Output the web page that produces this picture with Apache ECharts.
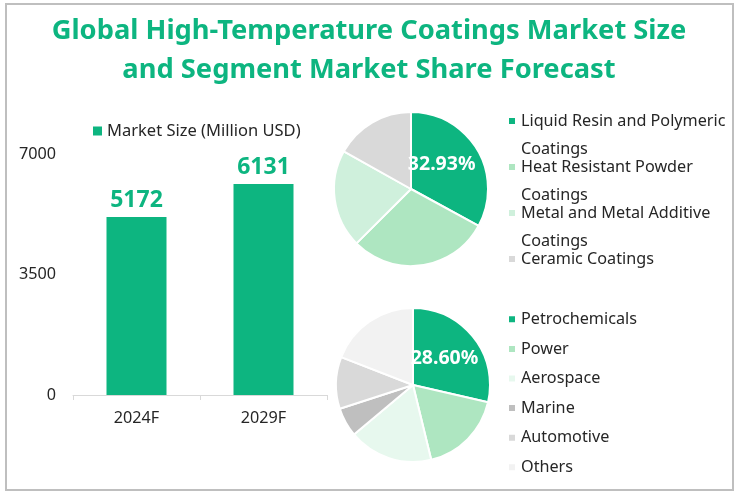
<!DOCTYPE html>
<html>
<head>
<meta charset="utf-8">
<script src="https://cdn.jsdelivr.net/npm/echarts@6/dist/echarts.min.js"></script>
<style>
  html, body { margin: 0; padding: 0; background: #fff; }
  #chart { width: 738px; height: 495px; }
</style>
</head>
<body>
<div id="chart"></div>
<script>
const years = ["2024F", "2029F"];
const marketSize = [5172, 6131];
const yTicks = [0, 3500, 7000];

const coatingNames = ["Liquid Resin and Polymeric Coatings", "Heat Resistant Powder Coatings", "Metal and Metal Additive Coatings", "Ceramic Coatings"];
const coatingShare = [32.93, 29.6, 20.6, 16.87];
const coatingColors = ["#0DB580", "#AEE6C1", "#CFF0DC", "#D9D9D9"];

const industryNames = ["Petrochemicals", "Power", "Aerospace", "Marine", "Automotive", "Others"];
const industryShare = [28.6, 17.6, 17.7, 6.1, 10.9, 19.1];
const industryColors = ["#0DB580", "#AEE6C1", "#E7F8EE", "#BFBFBF", "#D9D9D9", "#F2F2F2"];

const FONT = '"Noto Sans", "Open Sans", sans-serif';
const GREEN = "#0DB580";
const TEXT = "#262626";
const SIZE = 16.2;

// legend icon sits on the vertical middle of the text, so the first line goes in the middle
const wrapped = {
    "Liquid Resin and Polymeric Coatings": "\nLiquid Resin and Polymeric\nCoatings",
    "Heat Resistant Powder Coatings": "\nHeat Resistant Powder\nCoatings",
    "Metal and Metal Additive Coatings": "\nMetal and Metal Additive\nCoatings",
    "Ceramic Coatings": "\nCeramic Coatings\n "
};

function pieData(names, values, colors, offset) {
    return names.map((n, i) => {
        const item = { name: n, value: values[i], itemStyle: { color: colors[i] } };
        if (i === 0) {
            item.label = {
                show: true,
                position: "inside",
                offset: offset,
                formatter: values[i].toFixed(2) + "%",
                color: "#fff",
                fontFamily: FONT,
                fontSize: 19.5,
                fontWeight: "bold"
            };
        }
        return item;
    });
}

function pieSeries(name, center, names, values, colors, offset) {
    return {
        type: "pie",
        name: name,
        center: center,
        radius: [0, 77],
        startAngle: 90,
        clockwise: true,
        silent: true,
        animation: false,
        label: { show: false },
        labelLine: { show: false },
        itemStyle: { borderColor: "#fff", borderWidth: 2 },
        data: pieData(names, values, colors, offset)
    };
}

var chart = echarts.init(document.getElementById("chart"));

chart.setOption({
    animation: false,
    backgroundColor: "#fff",
    title: {
        text: "Global High-Temperature Coatings Market Size\nand Segment Market Share Forecast",
        left: 364,
        top: 7,
        textAlign: "center",
        textStyle: {
            color: GREEN,
            fontFamily: FONT,
            fontSize: 27.3,
            fontWeight: "bold",
            lineHeight: 39
        }
    },
    graphic: [{
        type: "rect",
        shape: { x: 6, y: 4, width: 727, height: 486 },
        style: { fill: "none", stroke: "#BFBFBF", lineWidth: 2 },
        silent: true
    }],
    legend: [
        {
            data: ["Market Size (Million USD)"],
            left: 93,
            top: 120,
            padding: 0,
            itemWidth: 9,
            itemHeight: 9,
            itemGap: 0,
            icon: "rect",
            textStyle: { fontFamily: FONT, fontSize: 16.5, color: TEXT, lineHeight: 22 }
        },
        {
            data: coatingNames,
            left: 507,
            top: 79,
            padding: 0,
            orient: "vertical",
            itemWidth: 8,
            itemHeight: 8,
            itemGap: -38,
            icon: "rect",
            formatter: n => wrapped[n],
            textStyle: { fontFamily: FONT, fontSize: SIZE, lineHeight: 28, color: TEXT }
        },
        {
            data: industryNames,
            left: 507,
            top: 309,
            padding: 0,
            orient: "vertical",
            itemWidth: 8,
            itemHeight: 8,
            itemGap: 9,
            icon: "rect",
            textStyle: { fontFamily: FONT, fontSize: SIZE, lineHeight: 20.6, color: TEXT }
        }
    ],
    grid: { left: 73, right: 411, top: 154, bottom: 100 },
    xAxis: {
        type: "category",
        data: years,
        axisLine: { lineStyle: { color: "#D9D9D9", width: 1 } },
        axisTick: { show: true, length: 5, lineStyle: { color: "#D9D9D9" } },
        axisLabel: { color: TEXT, fontFamily: FONT, fontSize: SIZE, margin: 15 }
    },
    yAxis: {
        type: "value",
        min: yTicks[0],
        max: yTicks[2],
        interval: yTicks[1],
        axisLine: { show: false },
        axisTick: { show: false },
        splitLine: { show: false },
        axisLabel: { color: TEXT, fontFamily: FONT, fontSize: SIZE, margin: 17, padding: [2, 0, 0, 0], formatter: v => String(v) }
    },
    series: [
        {
            type: "bar",
            name: "Market Size (Million USD)",
            data: marketSize,
            barWidth: 60,
            itemStyle: { color: GREEN },
            label: {
                show: true,
                position: "top",
                distance: 5,
                color: GREEN,
                fontFamily: FONT,
                fontSize: 23,
                fontWeight: "bold"
            }
        },
        pieSeries("Coatings", [411, 189], coatingNames, coatingShare, coatingColors, [-5, -3]),
        pieSeries("Industries", [413, 385], industryNames, industryShare, industryColors, [-1, -1])
    ]
});

window.addEventListener("resize", () => {
    if (chart) chart.resize();
});
</script>
</body>
</html>
